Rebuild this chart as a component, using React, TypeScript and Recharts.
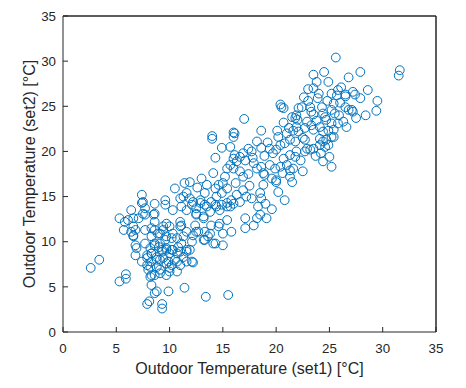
import { Label, ReferenceLine, Scatter, ScatterChart, XAxis, YAxis } from "recharts"

// [set1, set2] pairs, grouped by region
const outliers: [number, number][] = [
  [2.6, 7.1], [3.4, 8.0], [5.3, 5.6], [5.9, 6.4], [5.9, 5.9], [8.2, 6.1], [8.3, 5.2],
  [8.6, 4.3], [8.8, 4.5], [8.1, 3.4], [7.9, 3.1], [9.3, 3.1], [9.3, 2.6], [9.9, 4.5],
  [11.4, 4.9], [13.4, 3.9], [15.5, 4.1], [12.2, 7.7], [31.6, 29.0], [31.5, 28.4],
  [25.6, 30.4], [29.5, 25.6], [29.4, 24.5], [28.4, 24.0], [25.2, 18.3], [24.4, 18.9],
  [22.5, 17.8], [20.8, 14.6], [17.0, 23.6], [14.0, 21.7], [14.0, 21.4], [14.3, 19.3],
]

const coolDays: [number, number][] = [
  [5.7, 11.3], [6.4, 11.1], [6.6, 11.7], [7.7, 11.3], [8.3, 11.5], [8.9, 10.9], [9.4, 11.3],
  [10.0, 11.7], [11.0, 11.7], [11.6, 11.1], [6.6, 10.6], [6.8, 9.6], [6.9, 9.3], [6.8, 8.5],
  [7.7, 9.8], [8.2, 9.3], [8.6, 9.6], [9.1, 9.8], [9.6, 10.2], [10.2, 10.4], [10.7, 10.4],
  [11.3, 10.6], [7.9, 8.5], [8.3, 8.7], [8.8, 8.3], [9.3, 8.9], [9.7, 9.1], [10.2, 9.1],
  [10.7, 8.7], [11.0, 8.9], [11.6, 8.9], [7.4, 7.8], [7.9, 7.4], [8.3, 7.8], [8.8, 7.2],
  [9.1, 8.0], [9.7, 7.6], [10.2, 7.4], [10.7, 7.8], [11.0, 7.4], [11.6, 7.8], [8.0, 6.9],
  [8.3, 6.3], [9.1, 6.5], [10.0, 6.7], [11.4, 16.5], [10.5, 15.9], [7.4, 15.2], [7.5, 14.4],
  [7.7, 13.7], [6.4, 13.5], [8.6, 14.2], [9.6, 14.6], [9.6, 14.1], [11.0, 14.8], [11.3, 15.0],
  [11.6, 15.4], [10.3, 13.5], [11.1, 13.9], [5.3, 12.6], [6.1, 12.4], [7.1, 12.6], [7.7, 13.0],
  [8.6, 13.1], [8.6, 12.2], [9.7, 12.0], [11.0, 12.2], [12.4, 11.8], [12.7, 11.1], [12.2, 10.7],
  [13.3, 11.1], [13.6, 10.6], [13.8, 10.9], [14.6, 11.7], [15.0, 10.9], [15.8, 11.1],
  [15.0, 9.6], [14.1, 9.8], [13.3, 10.2], [17.1, 11.5], [17.9, 11.8], [11.9, 9.1], [11.9, 16.6],
  [5.8, 12.2], [6.6, 12.6], [6.8, 11.3], [6.6, 10.7], [7.5, 13.1], [7.4, 14.3], [8.5, 13.0],
  [8.6, 11.3], [8.3, 10.6], [9.4, 11.7], [9.1, 10.9], [9.7, 10.6], [10.3, 10.9], [11.1, 11.8],
  [8.6, 9.8], [9.0, 9.4], [9.3, 9.1], [9.7, 9.3], [10.0, 8.7], [10.3, 9.1], [10.8, 9.4],
  [11.1, 9.8], [11.6, 9.1], [7.9, 8.2], [8.3, 8.7], [8.8, 8.0], [9.4, 8.2], [9.9, 7.8],
  [10.5, 8.0], [11.3, 8.3], [12.1, 7.8], [8.2, 7.2], [9.1, 6.9], [10.0, 7.1], [10.7, 6.7],
  [9.7, 6.3], [8.6, 6.3], [12.5, 11.1], [13.2, 10.2], [14.3, 9.8], [12.1, 10.0],
  [13.9, 11.8], [14.7, 12.0], [15.4, 12.4],
]

const mildDays: [number, number][] = [
  [14.9, 20.4], [15.7, 20.5], [16.0, 21.6], [18.2, 21.1], [18.6, 20.4], [17.4, 20.3],
  [17.7, 20.0], [16.1, 19.6], [16.6, 19.4], [16.0, 19.2], [16.3, 18.9], [16.9, 19.8],
  [17.1, 19.0], [15.7, 18.5], [15.4, 18.1], [16.0, 18.1], [16.6, 17.8], [16.9, 17.2],
  [17.9, 18.7], [18.2, 18.1], [18.6, 18.3], [18.8, 17.6], [19.4, 20.3], [19.7, 19.8],
  [20.0, 20.2], [20.4, 20.7], [20.8, 20.9], [21.3, 21.3], [21.8, 21.1], [21.9, 20.0],
  [21.3, 19.6], [20.7, 19.2], [19.4, 18.5], [19.9, 18.1], [20.4, 18.3], [21.0, 18.5],
  [21.3, 17.9], [21.6, 18.1], [18.9, 17.4], [20.0, 16.8], [21.3, 17.2], [21.5, 16.6],
  [13.5, 16.3], [13.3, 15.4], [14.3, 15.9], [14.6, 16.3], [15.0, 16.5], [15.4, 15.9],
  [14.9, 15.4], [14.4, 15.0], [13.9, 14.4], [13.3, 14.1], [12.5, 13.7], [12.9, 14.6],
  [15.8, 14.6], [16.3, 15.2], [16.9, 15.7], [16.6, 14.4], [17.2, 15.0], [17.7, 14.8],
  [18.5, 15.4], [18.8, 16.3], [18.6, 14.8], [18.3, 13.9], [18.5, 13.0], [18.2, 12.6],
  [17.1, 12.6], [16.0, 14.2], [15.7, 13.9], [19.1, 12.6], [20.0, 16.6], [11.9, 14.8],
  [12.2, 14.4], [12.5, 13.0], [13.2, 12.6], [13.8, 13.3], [14.4, 13.9], [14.9, 14.1], [15.4, 13.9],
  [11.6, 13.5], [12.1, 14.1], [12.9, 14.3], [13.5, 13.9], [14.3, 14.1], [14.7, 13.5],
  [15.4, 14.3], [12.5, 13.1], [13.2, 12.8], [17.8, 19.3], [18.9, 19.5], [19.2, 21.0],
  [20.2, 21.6], [21.0, 22.0], [19.6, 17.0], [20.6, 17.6], [17.4, 17.5], [16.2, 16.5],
  [15.2, 17.2], [14.1, 17.6], [13.0, 17.0], [12.6, 16.0], [19.0, 14.2], [20.2, 15.5],
  [21.8, 19.4], [22.3, 19.0], [17.5, 16.2], [19.6, 13.6],
]

const warmDays: [number, number][] = [
  [16.0, 22.1], [16.1, 22.0], [18.6, 22.3], [20.1, 22.3], [20.4, 25.2], [20.7, 24.8],
  [20.5, 24.9], [22.1, 24.8], [21.5, 23.8], [21.8, 23.7], [21.9, 24.0], [20.7, 23.2],
  [21.2, 22.6], [21.9, 22.7], [21.6, 22.3], [22.1, 22.2], [22.5, 21.5], [22.7, 21.3],
  [22.9, 20.3], [23.2, 20.2], [22.7, 20.0], [23.5, 20.3], [24.1, 21.4], [24.4, 21.1],
  [24.7, 21.3], [25.2, 21.6], [24.1, 20.7], [24.6, 20.5], [24.9, 20.7], [24.2, 19.8],
  [25.4, 21.6], [23.5, 28.5], [24.5, 28.8], [24.9, 27.7], [26.8, 28.2], [27.9, 28.8],
  [23.0, 26.9], [23.5, 27.0], [23.9, 25.9], [25.2, 26.4], [25.8, 26.8], [26.1, 27.1],
  [25.7, 26.2], [26.5, 26.3], [26.5, 26.1], [27.2, 26.6], [27.4, 26.3], [27.9, 25.9],
  [22.4, 24.9], [23.2, 24.9], [23.3, 24.4], [23.5, 24.1], [24.3, 24.9], [24.4, 24.2],
  [24.6, 23.8], [24.7, 23.5], [25.4, 25.3], [25.2, 24.6], [25.5, 24.2], [26.5, 24.9],
  [26.8, 24.6], [27.1, 24.6], [27.2, 24.4], [22.9, 23.3], [23.3, 22.9], [22.7, 22.6],
  [23.5, 22.4], [24.1, 22.7], [24.4, 22.2], [25.2, 23.1], [25.4, 22.4], [25.8, 23.1],
  [22.0, 23.5], [23.0, 25.6], [24.0, 26.4], [24.8, 25.6], [26.0, 25.4], [25.9, 24.0],
  [26.3, 23.3], [23.8, 23.4], [24.9, 22.3], [26.6, 22.7], [27.5, 23.7], [23.8, 27.7],
  [22.6, 26.0], [28.6, 26.8], [25.0, 19.4], [23.7, 19.5],
]

const TICKS = [0, 5, 10, 15, 20, 25, 30, 35]
const AXIS = "#262626"
const BLUE = "#0072BD"
const FONT = "'Liberation Sans', Arial, sans-serif"

const data = [...outliers, ...coolDays, ...mildDays, ...warmDays].map(([x, y]) => ({ x, y }))

const ring = (p: any) => (
  <circle cx={p.cx} cy={p.cy} r={4.4} fill="none" stroke={BLUE} strokeWidth={1} />
)
const nothing = () => <g />

export default function App() {
  const tickStyle = { fill: AXIS, fontSize: 13.3, fontFamily: FONT }
  const labelStyle = { fill: AXIS, fontSize: 16, fontFamily: FONT }
  return (
    <div style={{ position: "absolute", left: 0, top: 0, width: 466, height: 388, background: "#fff" }}>
      <ScatterChart width={466} height={388} margin={{ top: 15, right: 29, bottom: 0, left: 0 }}>
        <XAxis
          type="number" dataKey="x" domain={[0, 35]} ticks={TICKS} height={56}
          stroke={AXIS} tick={tickStyle} tickSize={-5} tickMargin={17} allowDataOverflow
        >
          <Label value="Outdoor Temperature (set1) [°C]" position="insideBottom" offset={14} style={labelStyle} />
        </XAxis>
        <XAxis
          xAxisId="top" orientation="top" type="number" dataKey="x" domain={[0, 35]} ticks={TICKS}
          height={1} stroke={AXIS} tick={false} tickSize={-5} allowDataOverflow
        />
        <YAxis
          type="number" dataKey="y" domain={[0, 35]} ticks={TICKS} width={63}
          stroke={AXIS} tick={tickStyle} tickSize={-5} tickMargin={12} allowDataOverflow
        >
          <Label value="Outdoor Temperature (set2) [°C]" angle={-90} position="insideLeft" offset={29}
            style={{ ...labelStyle, textAnchor: "middle" }} />
        </YAxis>
        <YAxis
          yAxisId="right" orientation="right" type="number" dataKey="y" domain={[0, 35]} ticks={TICKS}
          width={1} stroke={AXIS} tick={false} tickSize={-5} allowDataOverflow
        />
        <ReferenceLine y={35} stroke={AXIS} />
        <ReferenceLine x={35} stroke={AXIS} />
        <Scatter data={data} xAxisId="top" yAxisId="right" shape={nothing} isAnimationActive={false} />
        <Scatter data={data} shape={ring} isAnimationActive={false} />
      </ScatterChart>
    </div>
  )
}
